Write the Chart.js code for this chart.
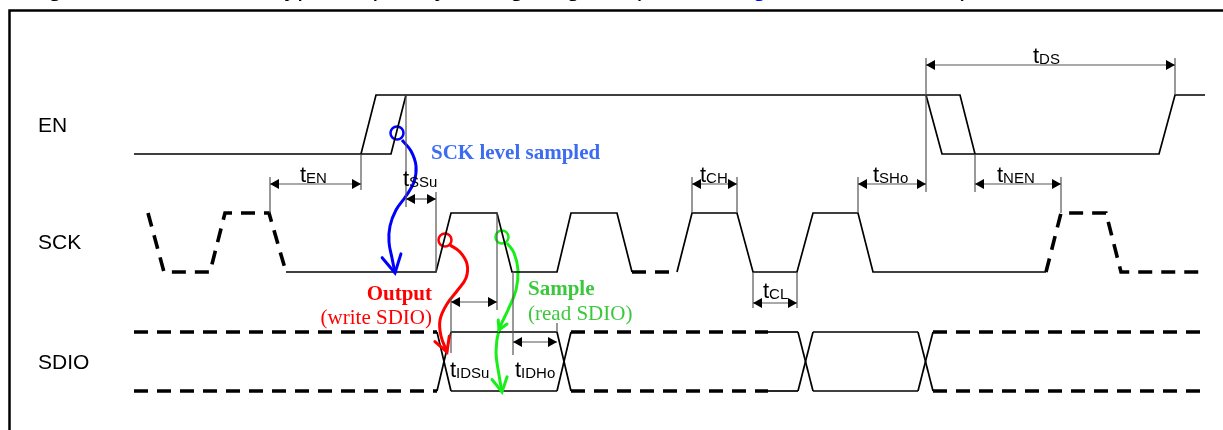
<!DOCTYPE html>
<html>
<head>
<meta charset="utf-8">
<script src="https://cdn.jsdelivr.net/npm/chart.js@4.4.1/dist/chart.umd.min.js"></script>
<style>
  html, body { margin: 0; padding: 0; background: #fff; overflow: hidden; }
  #wrap { width: 1223px; height: 430px; position: relative; }
</style>
</head>
<body>
<div id="wrap"><canvas id="timing"></canvas></div>
<script>
'use strict';

// signal rows (y is in diagram units, same scale as the page)
var rows = ['EN', 'SCK', 'SDIO'];
var rowHigh = [95, 213, 332];
var rowLow = [154, 272, 391];

// EN waveform: corner times and levels (1 = high)
var enTimes = [134, 361, 376, 960, 975, 1159, 1175, 1205];
var enLevels = [0, 0, 1, 1, 0, 0, 1, 1];
var enLateTimes = [361, 391, 406];
var enLateLevels = [0, 0, 1];
var enEarlyTimes = [926, 942, 975];
var enEarlyLevels = [1, 0, 0];

// SCK waveform, split in dashed / solid pieces
var sckTimesA = [148, 164, 210, 225, 269, 286];
var sckLevelsA = [1, 0, 0, 1, 1, 0];
var sckTimesB = [286, 436, 451, 497, 512, 557, 571, 617, 632];
var sckLevelsB = [0, 0, 1, 1, 0, 0, 1, 1, 0];
var sckTimesC = [632, 677];
var sckLevelsC = [0, 0];
var sckTimesD = [677, 692, 737, 753, 797, 813, 858, 873, 1046];
var sckLevelsD = [0, 1, 1, 0, 0, 1, 1, 0, 0];
var sckTimesE = [1046, 1061, 1106, 1121, 1205];
var sckLevelsE = [0, 1, 1, 0, 0];

// SDIO bus: pairs of [from, to]
var sdioDashed = [[134, 437], [571, 768], [933, 1205]];
var sdioSolid = [[451, 557], [768, 798], [813, 918]];
var sdioCross = [[437, 451], [557, 571], [798, 813], [918, 933]];

// timing parameters
var tNames = ['EN', 'SSu', 'CH', 'SHo', 'NEN', 'DS', 'IDSu', 'IDHo', 'CL'];
var tStart = [270, 406, 692, 858, 975, 926, 451, 513, 753];
var tEnd = [361, 436, 737, 926, 1061, 1175, 497, 557, 797];
var tLevel = [184, 199, 184, 184, 184, 65, 302, 342, 303];

// extension lines
var extX = [361, 270, 406, 436, 692, 737, 858, 926, 975, 1061, 1175, 451, 497, 513, 557, 753, 797];
var extTop = [154, 177, 95, 192, 177, 177, 177, 58, 154, 177, 58, 297, 213, 272, 323, 272, 272];
var extBottom = [190, 213, 207, 272, 213, 213, 213, 192, 192, 213, 95, 353, 310, 355, 332, 308, 308];

// hand drawn arrows
var blueX = [402, 411, 416, 414, 406, 396, 390, 389, 392, 395];
var blueY = [140, 151, 166, 182, 196, 210, 226, 242, 258, 273];
var redX = [450, 460, 467, 466, 457, 447, 440, 441, 447];
var redY = [245, 252, 264, 278, 291, 304, 320, 336, 352];
var greenX = [507, 514, 518, 516, 508, 499, 496, 499, 502];
var greenY = [243, 253, 270, 290, 310, 330, 352, 375, 392];
var circleX = [397, 445, 502];
var circleY = [133, 240, 237];

var notes = ['SCK level sampled', 'Output', '(write SDIO)', 'Sample', '(read SDIO)'];


var colors = {
  ink      : '#000',
  dim      : '#555',
  blue     : '#0000ff',
  blueText : '#3c6cf0',
  red      : '#ff0000',
  green    : '#18ee18',
  greenText: '#3cc83c',
  link     : '#0000ee'
};

function pts(times, levels, row) {
  return times.map(function(t, i) {
    return { x: t, y: levels[i] ? rowHigh[row] : rowLow[row] };
  });
}

function wave(data, dashed) {
  return {
    data: data,
    showLine: true,
    borderColor: colors.ink,
    borderWidth: dashed ? 3.6 : 1.7,
    borderDash: dashed ? [14, 9] : [],
    borderCapStyle: 'butt',
    borderJoinStyle: 'miter',
    pointRadius: 0,
    tension: 0
  };
}

function curve(xs, ys, color) {
  return {
    data: xs.map(function(x, i) { return { x: x, y: ys[i] }; }),
    showLine: true,
    borderColor: color,
    borderWidth: 3,
    pointRadius: 0,
    tension: 0.4,
    cubicInterpolationMode: 'default'
  };
}

var datasets = [];
datasets.push(wave(pts(enTimes, enLevels, 0), false));
datasets.push(wave(pts(enLateTimes, enLateLevels, 0), false));
datasets.push(wave(pts(enEarlyTimes, enEarlyLevels, 0), false));

datasets.push(wave(pts(sckTimesA, sckLevelsA, 1), true));
datasets.push(wave(pts(sckTimesB, sckLevelsB, 1), false));
datasets.push(wave(pts(sckTimesC, sckLevelsC, 1), true));
datasets.push(wave(pts(sckTimesD, sckLevelsD, 1), false));
datasets.push(wave(pts(sckTimesE, sckLevelsE, 1), true));

sdioDashed.forEach(function(p) {
  datasets.push(wave(pts(p, [1, 1], 2), true));
  datasets.push(wave(pts(p, [0, 0], 2), true));
});
sdioSolid.forEach(function(p) {
  datasets.push(wave(pts(p, [1, 1], 2), false));
  datasets.push(wave(pts(p, [0, 0], 2), false));
});
sdioCross.forEach(function(p) {
  datasets.push(wave(pts(p, [1, 0], 2), false));
  datasets.push(wave(pts(p, [0, 1], 2), false));
});

datasets.push(curve(blueX, blueY, colors.blue));
datasets.push(curve(redX, redY, colors.red));
datasets.push(curve(greenX, greenY, colors.green));

var circleColors = [colors.blue, colors.red, colors.green];
circleX.forEach(function(x, i) {
  datasets.push({
    data: [{ x: x, y: circleY[i] }],
    showLine: false,
    pointRadius: 6.5,
    pointStyle: 'circle',
    pointBorderWidth: 2.5,
    pointBorderColor: circleColors[i],
    pointBackgroundColor: 'rgba(0,0,0,0)'
  });
});


// text, dimension arrows and the frame
var decor = {
  id: 'decor',
  afterDatasetsDraw: function(chart) {
    var ctx = chart.ctx;
    var sx = chart.scales.x, sy = chart.scales.y;
    var X = function(v) { return sx.getPixelForValue(v); };
    var Y = function(v) { return sy.getPixelForValue(v); };

    ctx.save();

    // frame
    ctx.strokeStyle = colors.ink;
    ctx.lineWidth = 2.5;
    ctx.beginPath();
    ctx.moveTo(X(9.5), Y(430));
    ctx.lineTo(X(9.5), Y(10.5));
    ctx.lineTo(X(1223), Y(10.5));
    ctx.stroke();

    // caption (cut off at the top, only descenders show)
    ctx.font = '26px Arial, "Liberation Sans", sans-serif';
    ctx.textBaseline = 'alphabetic';
    ctx.textAlign = 'left';
    var cx = 26, cy = -4;
    var parts = [
      ['Figure 11, 3-wire SPI-type frequency timing diagram ', colors.ink],
      ['(refer to ', colors.ink],
      ['Figure 12', colors.link],
      [' for details)', colors.ink]
    ];
    parts.forEach(function(p) {
      ctx.fillStyle = p[1];
      ctx.fillText(p[0], cx, cy);
      cx += ctx.measureText(p[0]).width;
    });

    // row names
    ctx.fillStyle = colors.ink;
    ctx.font = '21px Arial, "Liberation Sans", sans-serif';
    var rowBase = [132, 249, 369];
    rows.forEach(function(r, i) {
      ctx.fillText(r, X(38), Y(rowBase[i]));
    });

    // extension lines
    ctx.strokeStyle = colors.dim;
    ctx.lineWidth = 1.2;
    extX.forEach(function(x, i) {
      ctx.beginPath();
      ctx.moveTo(X(x), Y(extTop[i]));
      ctx.lineTo(X(x), Y(extBottom[i]));
      ctx.stroke();
    });

    // dimension arrows
    function head(x, y, dir) {
      ctx.beginPath();
      ctx.moveTo(x, y);
      ctx.lineTo(x + dir * 9, y - 5);
      ctx.lineTo(x + dir * 9, y + 5);
      ctx.closePath();
      ctx.fill();
    }
    var labelX = [300, 403, 700, 873, 997, 1033, 450, 515, 763];
    var labelY = [182, 186, 182, 182, 182, 63, 377, 377, 298];
    tNames.forEach(function(n, i) {
      var a = X(tStart[i]), b = X(tEnd[i]), y = Y(tLevel[i]);
      ctx.strokeStyle = colors.dim;
      ctx.lineWidth = 1.2;
      ctx.beginPath();
      ctx.moveTo(a, y);
      ctx.lineTo(b, y);
      ctx.stroke();
      ctx.fillStyle = colors.ink;
      head(a, y, 1);
      head(b, y, -1);

      var lx = X(labelX[i]), ly = Y(labelY[i]);
      ctx.font = '22px Arial, "Liberation Sans", sans-serif';
      ctx.fillText('t', lx, ly);
      var w = ctx.measureText('t').width;
      ctx.font = '15px Arial, "Liberation Sans", sans-serif';
      ctx.fillText(n, lx + w, ly + 1);
    });

    // notes
    var serif = '"Liberation Serif", "Times New Roman", serif';
    ctx.font = 'bold 21px ' + serif;
    ctx.fillStyle = colors.blueText;
    ctx.textAlign = 'left';
    ctx.fillText(notes[0], X(431), Y(159));

    ctx.fillStyle = colors.red;
    ctx.textAlign = 'right';
    ctx.fillText(notes[1], X(432), Y(300));
    ctx.font = '21px ' + serif;
    ctx.fillText(notes[2], X(432), Y(324));

    ctx.fillStyle = colors.greenText;
    ctx.textAlign = 'left';
    ctx.font = 'bold 21px ' + serif;
    ctx.fillText(notes[3], X(528), Y(295));
    ctx.font = '21px ' + serif;
    ctx.fillText(notes[4], X(528), Y(320));

    // open arrow heads on the hand drawn curves
    function vhead(xs, ys, k, color, len) {
      var x1 = X(xs[k]), y1 = Y(ys[k]);
      var x0 = X(xs[k - 1]), y0 = Y(ys[k - 1]);
      var ang = Math.atan2(y1 - y0, x1 - x0);
      ctx.strokeStyle = color;
      ctx.lineWidth = 3;
      ctx.lineCap = 'round';
      ctx.beginPath();
      ctx.moveTo(x1 - len * Math.cos(ang - 0.5), y1 - len * Math.sin(ang - 0.5));
      ctx.lineTo(x1, y1);
      ctx.lineTo(x1 - len * Math.cos(ang + 0.5), y1 - len * Math.sin(ang + 0.5));
      ctx.stroke();
    }
    vhead(blueX, blueY, blueX.length - 1, colors.blue, 20);
    vhead(redX, redY, redX.length - 1, colors.red, 16);
    vhead(greenX, greenY, greenX.length - 1, colors.green, 16);
    vhead(greenX, greenY, 5, colors.green, 10);

    ctx.restore();
  }
};

new Chart(document.getElementById('timing'), {
  type: 'scatter',
  data: { datasets: datasets },
  options: {
    responsive: true,
    maintainAspectRatio: false,
    animation: false,
    events: [],
    layout: { padding: 0, autoPadding: false },
    plugins: {
      legend: { display: false },
      tooltip: { enabled: false }
    },
    scales: {
      x: { type: 'linear', min: 0, max: 1223, display: false },
      y: { type: 'linear', min: 0, max: 430, reverse: true, display: false }
    }
  },
  plugins: [decor]
});
</script>
</body>
</html>
